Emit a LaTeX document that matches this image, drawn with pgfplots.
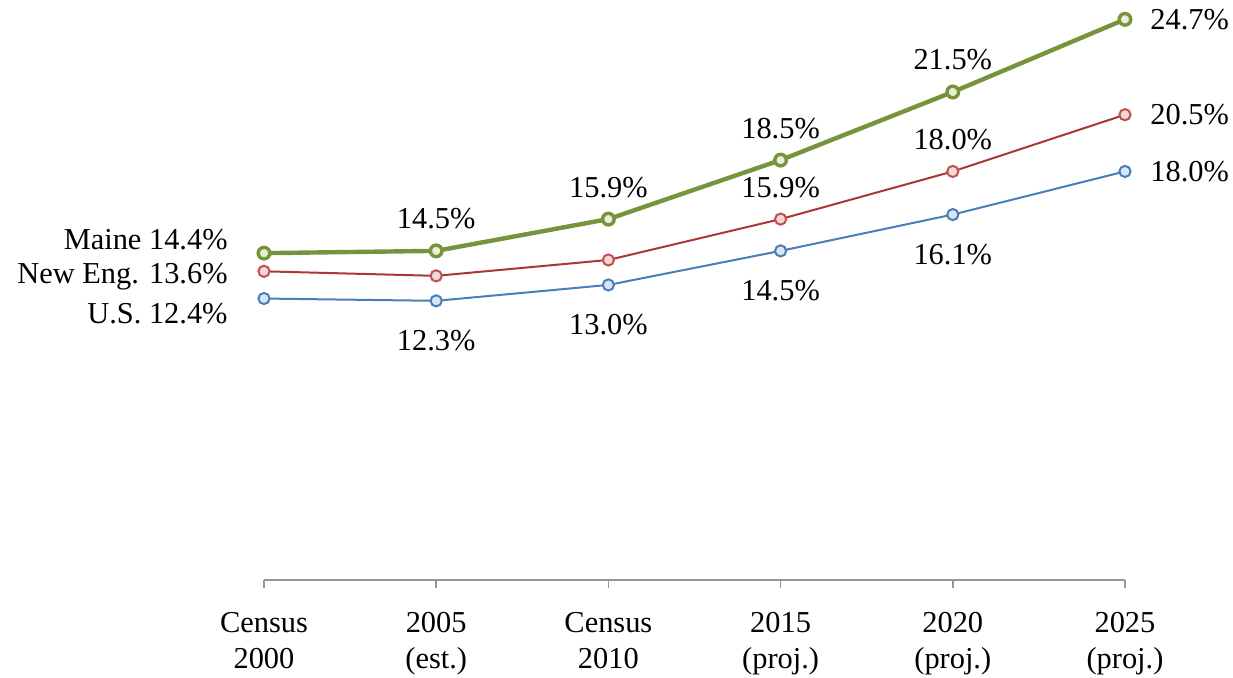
\documentclass[border=0pt]{standalone}
\usepackage{pgfplots}
\pgfplotsset{compat=1.18}
\usepackage{fontspec}
\setmainfont{Liberation Serif}
\definecolor{mgreen}{RGB}{119,147,60}
\definecolor{lgreen}{RGB}{232,238,218}
\definecolor{mred}{RGB}{170,55,52}
\definecolor{mredm}{RGB}{192,80,77}
\definecolor{lred}{RGB}{242,216,215}
\definecolor{mblue}{RGB}{74,126,187}
\definecolor{lblue}{RGB}{218,229,243}
\definecolor{axgray}{RGB}{150,150,150}
\newcommand{\lf}{\fontsize{15.2}{18}\selectfont}
\begin{document}
\begin{tikzpicture}
\begin{axis}[
  at={(0,0)}, anchor=south west,
  scale only axis, width=430.5pt, height=289.4pt,
  xmin=0, xmax=5, ymin=0, ymax=25.5,
  clip=false,
  axis x line*=bottom, axis y line=none,
  x axis line style={axgray, line width=0.8pt},
  xtick={0,1,2,3,4,5},
  xticklabels={{Census\\2000},{2005\\(est.)},{Census\\2010},{2015\\(proj.)},{2020\\(proj.)},{2025\\(proj.)}},
  xticklabel style={align=center, font=\lf, inner sep=0pt, anchor=north, yshift=-12pt},
  tick align=outside, major tick length=4pt,
  xtick style={axgray, line width=0.8pt},
  ytick=\empty,
  every node near coord/.append style={font=\lf, inner sep=0pt, text=black},
]
% U.S.
\addplot[color=mblue, line width=1pt, mark=*, mark size=2.8pt, mark options={fill=lblue, line width=1pt}]
  coordinates {(0,12.4)(1,12.3)(2,13.0)(3,14.5)(4,16.1)(5,18.0)};
% New England
\addplot[color=mred, line width=1pt, mark=*, mark size=2.8pt, mark options={draw=mredm, fill=lred, line width=1pt}]
  coordinates {(0,13.6)(1,13.4)(2,14.1)(3,15.9)(4,18.0)(5,20.5)};
% Maine
\addplot[color=mgreen, line width=2.2pt, mark=*, mark size=2.9pt, mark options={fill=lgreen, line width=1.7pt}]
  coordinates {(0,14.4)(1,14.5)(2,15.9)(3,18.5)(4,21.5)(5,24.7)};
% labels above
\addplot[draw=none, mark=none, forget plot, nodes near coords, point meta=explicit symbolic,
  every node near coord/.append style={anchor=base, yshift=11pt}]
  coordinates {(1,14.5)[14.5\%] (2,15.9)[15.9\%] (3,18.5)[18.5\%] (4,21.5)[21.5\%]
               (3,15.9)[15.9\%] (4,18.0)[18.0\%]};
% labels below
\addplot[draw=none, mark=none, forget plot, nodes near coords, point meta=explicit symbolic,
  every node near coord/.append style={anchor=base, yshift=-25pt}]
  coordinates {(1,12.3)[12.3\%] (2,13.0)[13.0\%] (3,14.5)[14.5\%] (4,16.1)[16.1\%]};
% labels right
\addplot[draw=none, mark=none, forget plot, nodes near coords, point meta=explicit symbolic,
  every node near coord/.append style={anchor=west, xshift=12.5pt}]
  coordinates {(5,24.7)[24.7\%] (5,20.5)[20.5\%] (5,18.0)[18.0\%]};
% labels left
\addplot[draw=none, mark=none, forget plot, nodes near coords, point meta=explicit symbolic,
  every node near coord/.append style={anchor=base east, xshift=-18pt, yshift=2pt}]
  coordinates {(0,14.4)[Maine 14.4\%]};
\addplot[draw=none, mark=none, forget plot, nodes near coords, point meta=explicit symbolic,
  every node near coord/.append style={anchor=base east, xshift=-18pt, yshift=-6pt}]
  coordinates {(0,13.6)[New Eng. 13.6\%]};
\addplot[draw=none, mark=none, forget plot, nodes near coords, point meta=explicit symbolic,
  every node near coord/.append style={anchor=base east, xshift=-18pt, yshift=-12.5pt}]
  coordinates {(0,12.4)[U.S. 12.4\%]};
\end{axis}
\pgfresetboundingbox
\path (-132pt,-48.5pt) rectangle (484.5pt,290pt);
\end{tikzpicture}
\end{document}
